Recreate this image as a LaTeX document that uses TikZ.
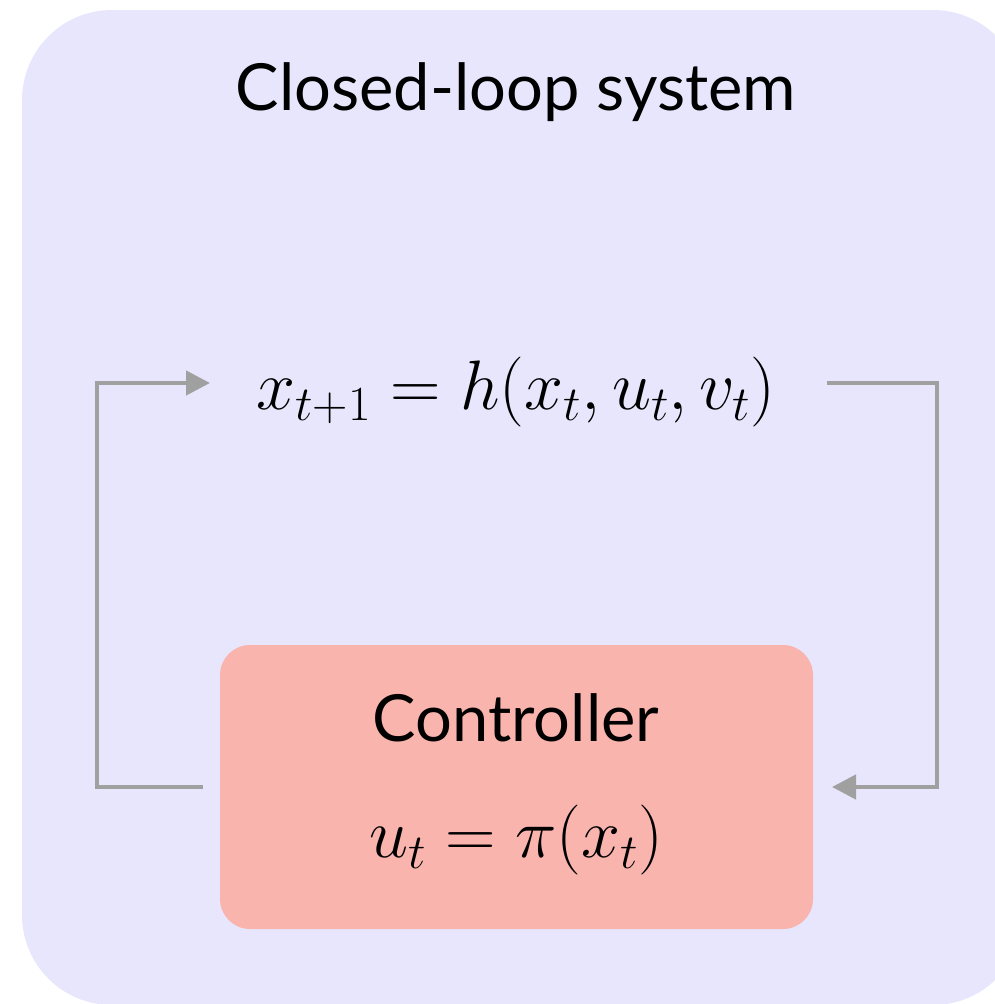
\documentclass[tikz,border=0pt]{standalone}
\usepackage{fix-cm}
\usepackage{fontspec}
\setmainfont{Lato}
\usetikzlibrary{arrows.meta}
\definecolor{loopbg}{HTML}{E8E6FC}
\definecolor{ctrlbg}{HTML}{FAB4AE}
\definecolor{wire}{HTML}{A0A0A0}
\tikzset{
  signal/.style={draw=wire, line width=4.5pt},
  sigarrow/.style={signal, -{Triangle[length=24pt,width=24pt]}},
  title/.style={font=\fontsize{65}{72}\selectfont, inner sep=0pt},
  eqn/.style={font=\fontsize{70}{80}\selectfont, inner sep=0pt},
}
\begin{document}
\begin{tikzpicture}[x=1pt, y=-1pt]
\useasboundingbox (0,0) rectangle (995,1004);
% outer closed-loop region (runs past the right edge)
\fill[loopbg, rounded corners=90pt] (22,10) rectangle (1023,1005);
\node[title] (ttl) at (516,92) {Closed-loop system};
% plant dynamics
\node[eqn] (plant) at (516,392) {$x_{t+1} = h(x_t, u_t, v_t)$};
% controller block
\fill[ctrlbg, rounded corners=30pt] (220,645) rectangle (813,929);
\node[title] (ctrl) at (516,718) {Controller};
\node[eqn] (law) at (516,840) {$u_t = \pi(x_t)$};
% feedback wiring
\coordinate (cl) at (203,787);
\coordinate (cr) at (832,787);
\coordinate (pl) at (210,383);
\coordinate (pr) at (827,383);
\draw[sigarrow] (cl) -| (97,383) -- (pl);
\draw[sigarrow] (pr) -| (937,787) -- (cr);
\end{tikzpicture}
\end{document}
